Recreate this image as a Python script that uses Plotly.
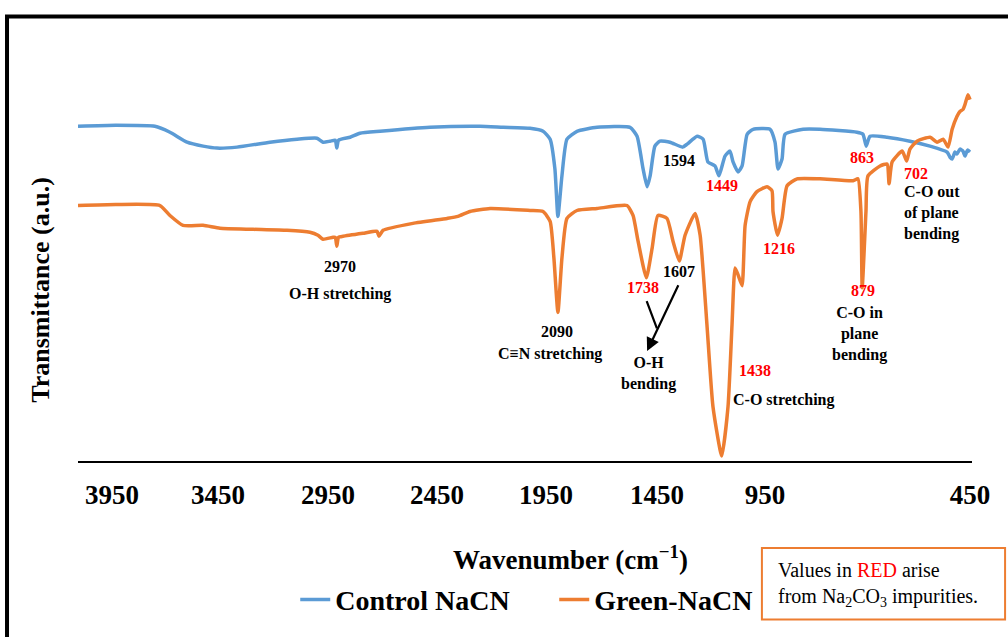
import plotly.graph_objects as go

# FTIR spectra (wavenumber in cm^-1, transmittance in arbitrary units, offset for display)
control_wn = [4000, 3850, 3694, 3634, 3566, 3502, 3447, 3367, 3236, 3128, 3049, 3025, 2997, 2976,
              2970, 2963, 2917, 2878, 2798, 2599, 2400, 2308, 2201, 2149, 2121, 2102, 2090, 2074,
              2054, 2014, 1934, 1803, 1775, 1751, 1735, 1723, 1704, 1684, 1644, 1594, 1576, 1536,
              1512, 1493, 1465, 1449, 1425, 1405, 1393, 1373, 1357, 1337, 1313, 1246, 1226, 1214,
              1198, 1186, 1114, 1047, 900, 876, 863, 848, 780, 689, 609, 541, 530, 521, 510, 502,
              490, 478, 470, 460, 450]
control_t = [338, 339, 338, 332, 322, 318, 316, 317, 322, 325, 326, 322, 323, 324, 316, 324, 327,
             331, 333, 337, 338, 337, 336, 333, 325, 295, 247, 288, 325, 333, 337, 337, 328, 295,
             277, 288, 318, 323, 322, 317, 320, 328, 325, 302, 298, 288, 308, 313, 302, 292, 298,
             330, 335, 335, 322, 295, 305, 330, 335, 335, 332, 330, 318, 328, 327, 323, 318, 312,
             307, 305, 312, 310, 315, 313, 308, 314, 312]

green_wn = [4000, 3850, 3674, 3634, 3582, 3502, 3435, 3303, 3168, 3077, 3045, 3025, 2985, 2976,
            2970, 2963, 2945, 2866, 2810, 2802, 2786, 2667, 2531, 2488, 2440, 2360, 2201, 2149,
            2121, 2106, 2090, 2074, 2054, 2014, 1934, 1815, 1791, 1771, 1738, 1715, 1692, 1656,
            1632, 1607, 1584, 1544, 1524, 1497, 1473, 1438, 1413, 1397, 1385, 1373, 1357, 1345,
            1325, 1298, 1258, 1238, 1234, 1216, 1198, 1178, 1138, 1047, 915, 896, 884, 879, 864,
            856, 808, 780, 772, 760, 720, 702, 689, 661, 609, 581, 557, 537, 521, 502, 490, 478,
            470, 458, 450]
green_t = [258, 259, 258, 248, 238, 238, 235, 234, 233, 231, 228, 224, 226, 226, 217, 226, 227,
           230, 232, 227, 233, 240, 245, 247, 252, 255, 253, 252, 242, 205, 150, 205, 245, 253,
           255, 258, 248, 222, 185, 215, 248, 245, 222, 202, 228, 250, 228, 138, 55, 5, 55, 138,
           195, 188, 177, 238, 262, 272, 277, 273, 252, 228, 245, 278, 285, 285, 283, 285, 252,
           175, 252, 288, 298, 300, 280, 302, 313, 303, 315, 323, 327, 322, 325, 317, 335, 348,
           353, 355, 360, 370, 365]

tick_labels = ["3950", "3450", "2950", "2450", "1950", "1450", "950", "450"]
tick_positions = [3865, 3443, 3005, 2571, 2137, 1696, 1266, 450]

BLUE = "#5B9BD5"
ORANGE = "#ED7D31"
RED = "#FF0000"
SERIF = "Liberation Serif"


def bold(size, color="black"):
    return dict(family=SERIF, size=size, color=color, weight="bold")


fig = go.Figure()
fig.add_trace(go.Scatter(x=control_wn, y=control_t, mode="lines", name="Control NaCN",
                         line=dict(color=BLUE, width=3.5, shape="spline", smoothing=0.5)))
fig.add_trace(go.Scatter(x=green_wn, y=green_t, mode="lines", name="Green-NaCN",
                         line=dict(color=ORANGE, width=3.5, shape="spline", smoothing=0.5)))

# peak labels: (text, wavenumber, y, colour, anchor)
labels = [
    ("2970", 2957, 196, "black", "center"),
    ("O-H stretching", 2957, 169, "black", "center"),
    ("2090", 2094, 131, "black", "center"),
    ("C≡N stretching", 2121, 108, "black", "center"),
    ("1738", 1751, 175, RED, "center"),
    ("1607", 1608, 191, "black", "center"),
    ("O-H<br>bending", 1731, 88, "black", "center"),
    ("1438", 1306, 91, RED, "center"),
    ("C-O stretching", 1194, 62, "black", "center"),
    ("879", 876, 172, RED, "center"),
    ("C-O in<br>plane<br>bending", 888, 128, "black", "center"),
    ("1594", 1608, 303, "black", "center"),
    ("1449", 1437, 278, RED, "center"),
    ("1216", 1210, 215, RED, "center"),
    ("863", 880, 307, RED, "center"),
    ("702", 722, 290, RED, "left"),
    ("C-O out<br>of plane<br>bending", 722, 250, "black", "left"),
]
for text, xw, yv, col, anchor in labels:
    fig.add_annotation(x=xw, y=yv, xref="x", yref="y", text=text, showarrow=False,
                       xanchor=anchor, yanchor="middle", align=anchor, font=bold(16, col))

# O-H bending pointers
fig.add_annotation(x=1696, y=134, ax=1739, ay=163, xref="x", yref="y", axref="x", ayref="y",
                   text="", showarrow=True, arrowhead=0, arrowwidth=2.2, arrowcolor="black")
fig.add_annotation(x=1735, y=111, ax=1608, ay=179, xref="x", yref="y", axref="x", ayref="y",
                   text="", showarrow=True, arrowhead=2, arrowsize=1.2, arrowwidth=2.2,
                   arrowcolor="black")

# axis titles
fig.add_annotation(x=-0.0414, y=0.427, xref="paper", yref="paper", textangle=-90,
                   xanchor="center", yanchor="middle",
                   text="Transmittance (a.u.)", showarrow=False, font=bold(26))
fig.add_annotation(x=0.551, y=-0.242, xref="paper", yref="paper",
                   xanchor="center", yanchor="middle",
                   text="Wavenumber (cm<sup>−1</sup>)", showarrow=False, font=bold(27))

# note box
fig.add_shape(type="rect", xref="paper", yref="paper", x0=0.765, x1=1.037, y0=-0.395, y1=-0.217,
              line=dict(color=ORANGE, width=2), fillcolor="white")
fig.add_annotation(x=0.781, y=-0.308, xref="paper", yref="paper", xanchor="left",
                   yanchor="middle", align="left",
                   text=f"Values in <span style='color:{RED}'>RED</span> arise<br>"
                        "from Na<sub>2</sub>CO<sub>3</sub> impurities.",
                   showarrow=False, font=dict(family=SERIF, size=20, color="black"))

# outer frame
fig.add_shape(type="rect", xref="paper", yref="paper", x0=-0.0794, x1=1.06, y0=-0.46, y1=1.1086,
              line=dict(color="black", width=4))

fig.update_layout(
    width=1008, height=637,
    margin=dict(l=78, r=36, t=60, b=172),
    paper_bgcolor="white", plot_bgcolor="white",
    showlegend=True,
    legend=dict(orientation="h", x=0.243, xanchor="left", y=-0.346, yanchor="middle",
                entrywidth=214, font=bold(28), bgcolor="rgba(0,0,0,0)"),
)
fig.update_xaxes(range=[4000, 442], tickvals=tick_positions, ticktext=tick_labels,
                 automargin=False,
                 showgrid=False, zeroline=False, showline=True, linecolor="black", linewidth=1.5,
                 ticks="outside", ticklen=9, tickcolor="rgba(0,0,0,0)", tickfont=bold(27))
fig.update_yaxes(range=[0, 405], showticklabels=False, showgrid=False, zeroline=False,
                 showline=False, automargin=False)

fig.write_html("out.html")
